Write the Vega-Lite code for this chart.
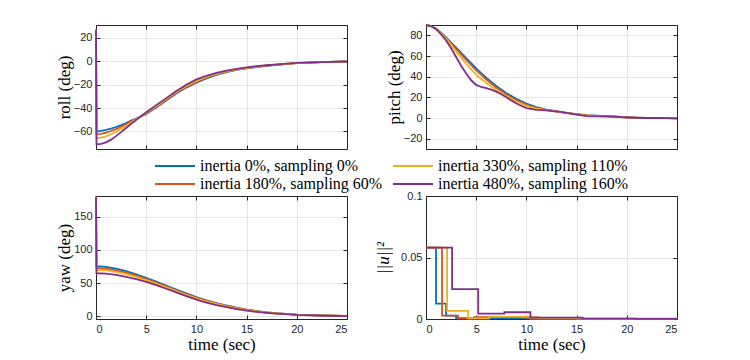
{
  "$schema": "https://vega.github.io/schema/vega-lite/v6.json",
  "background": "white",
  "padding": {"left": 55, "top": 21, "right": 5, "bottom": 5},
  "config": {
    "view": {"stroke": null},
    "axis": {
      "labelFont": "Liberation Sans", "labelFontSize": 11, "labelColor": "#262626",
      "titleFont": "Liberation Serif", "titleFontSize": 17, "titleFontWeight": "normal", "titleColor": "#000000",
      "gridColor": "#e6e6e6", "gridWidth": 1, "domainColor": "#262626", "tickColor": "#262626",
      "tickSize": -4, "labelPadding": 8, "format": "~f"
    },
    "axisX": {"titlePadding": 2},
    "axisY": {"titlePadding": 0},
    "line": {"strokeWidth": 1.8}
  },
  "datasets": {
    "names": [
      {"k": "a", "name": "inertia 0%, sampling 0%"},
      {"k": "b", "name": "inertia 180%, sampling 60%"},
      {"k": "c", "name": "inertia 330%, sampling 110%"},
      {"k": "d", "name": "inertia 480%, sampling 160%"}
    ],
    "roll": [
      {"t": 0, "a": 27, "b": 27, "c": 27, "d": 27},
      {"t": 0.05, "a": -60, "b": -62.3, "c": -65.7, "d": -71},
      {"t": 0.5, "a": -59.5, "b": -62, "c": -65.3, "d": -70.6},
      {"t": 1, "a": -58.7, "b": -61, "c": -64.2, "d": -69.3},
      {"t": 1.5, "a": -57.6, "b": -59.6, "c": -62.4, "d": -67},
      {"t": 2, "a": -56.2, "b": -58, "c": -60.2, "d": -64},
      {"t": 2.5, "a": -54.6, "b": -56, "c": -57.8, "d": -60.6},
      {"t": 3, "a": -52.8, "b": -53.8, "c": -55.2, "d": -57},
      {"t": 3.5, "a": -50.8, "b": -51.4, "c": -52.5, "d": -53.5},
      {"t": 4, "a": -49, "b": -49.3, "c": -49.6, "d": -50.2},
      {"t": 5, "a": -45, "b": -44.6, "c": -44.1, "d": -43.5},
      {"t": 6, "a": -39.5, "b": -39, "c": -38.4, "d": -37.5},
      {"t": 7, "a": -33.5, "b": -33, "c": -32.3, "d": -31.5},
      {"t": 8, "a": -27.5, "b": -27, "c": -26.3, "d": -25.5},
      {"t": 9, "a": -22.5, "b": -21.9, "c": -21.2, "d": -20},
      {"t": 10, "a": -18.3, "b": -17.6, "c": -16.9, "d": -15.5},
      {"t": 11, "a": -14.6, "b": -14, "c": -13.4, "d": -12.4},
      {"t": 12, "a": -11.6, "b": -11.2, "c": -10.7, "d": -10},
      {"t": 13, "a": -9.2, "b": -8.9, "c": -8.6, "d": -8.1},
      {"t": 14, "a": -7.4, "b": -7.2, "c": -6.9, "d": -6.5},
      {"t": 15, "a": -6.1, "b": -5.9, "c": -5.6, "d": -5.2},
      {"t": 16, "a": -4.9, "b": -4.7, "c": -4.5, "d": -4.2},
      {"t": 17, "a": -3.9, "b": -3.8, "c": -3.6, "d": -3.4},
      {"t": 18, "a": -3.1, "b": -3, "c": -2.9, "d": -2.7},
      {"t": 20, "a": -1.6, "b": -1.6, "c": -1.5, "d": -1.4},
      {"t": 22.5, "a": -0.8, "b": -0.8, "c": -0.8, "d": -0.7},
      {"t": 25, "a": -0.2, "b": -0.2, "c": -0.2, "d": -0.2}
    ],
    "pitch": [
      {"t": 0, "a": 90, "b": 90, "c": 90, "d": 90},
      {"t": 0.5, "a": 89, "b": 89, "c": 89, "d": 89},
      {"t": 1, "a": 86.5, "b": 86.4, "c": 86.2, "d": 86},
      {"t": 1.5, "a": 82.5, "b": 82.3, "c": 81.8, "d": 81},
      {"t": 2, "a": 78, "b": 77.5, "c": 76.5, "d": 75},
      {"t": 2.5, "a": 73, "b": 72.3, "c": 70.8, "d": 67.5},
      {"t": 3, "a": 68, "b": 66.8, "c": 64.5, "d": 59},
      {"t": 3.5, "a": 63, "b": 61.5, "c": 58.5, "d": 50.5},
      {"t": 4, "a": 58, "b": 56.3, "c": 52.5, "d": 43},
      {"t": 4.5, "a": 53, "b": 51.2, "c": 47, "d": 36.5},
      {"t": 5, "a": 48, "b": 46.2, "c": 42, "d": 32},
      {"t": 5.5, "a": 43.5, "b": 41.7, "c": 37.8, "d": 30},
      {"t": 6, "a": 39, "b": 37.3, "c": 34, "d": 29},
      {"t": 6.5, "a": 35, "b": 33.3, "c": 30.5, "d": 27.5},
      {"t": 7, "a": 31, "b": 29.5, "c": 27.3, "d": 25.5},
      {"t": 7.5, "a": 27.5, "b": 26, "c": 24.3, "d": 23},
      {"t": 8, "a": 24, "b": 22.7, "c": 21.3, "d": 20},
      {"t": 9, "a": 18.5, "b": 17.3, "c": 16, "d": 14},
      {"t": 10, "a": 14, "b": 13, "c": 11.8, "d": 9.5},
      {"t": 11, "a": 10.5, "b": 9.8, "c": 9, "d": 7.8},
      {"t": 12, "a": 8, "b": 7.8, "c": 7.5, "d": 7.3},
      {"t": 13, "a": 6.3, "b": 6.3, "c": 6.2, "d": 6.5},
      {"t": 14, "a": 5, "b": 5, "c": 4.9, "d": 5},
      {"t": 15, "a": 3.8, "b": 3.7, "c": 3.5, "d": 3.2},
      {"t": 16, "a": 2.8, "b": 2.6, "c": 2.4, "d": 1.8},
      {"t": 17, "a": 2.2, "b": 2, "c": 1.9, "d": 1.5},
      {"t": 18, "a": 1.8, "b": 1.7, "c": 1.6, "d": 1.5},
      {"t": 19, "a": 1.3, "b": 1.2, "c": 1.1, "d": 1},
      {"t": 20, "a": 0.8, "b": 0.7, "c": 0.6, "d": 0.5},
      {"t": 21, "a": 0.3, "b": 0.3, "c": 0.2, "d": 0.2},
      {"t": 22, "a": 0, "b": 0, "c": 0, "d": 0},
      {"t": 23, "a": 0, "b": 0, "c": 0, "d": 0.1},
      {"t": 24, "a": -0.2, "b": -0.2, "c": -0.2, "d": -0.2},
      {"t": 25, "a": -0.4, "b": -0.4, "c": -0.4, "d": -0.4}
    ],
    "yaw": [
      {"t": 0, "a": 180, "b": 180, "c": 180, "d": 180},
      {"t": 0.05, "a": 75.4, "b": 72.4, "c": 69.8, "d": 64.8},
      {"t": 1, "a": 74.5, "b": 71.6, "c": 69.1, "d": 64.3},
      {"t": 2, "a": 71.8, "b": 69.2, "c": 66.9, "d": 62.3},
      {"t": 3, "a": 68, "b": 65.6, "c": 63.5, "d": 59.3},
      {"t": 4, "a": 63.3, "b": 61.2, "c": 59.3, "d": 55.8},
      {"t": 5, "a": 58, "b": 56.2, "c": 54.5, "d": 51.7},
      {"t": 6, "a": 52.3, "b": 50.7, "c": 49.2, "d": 46.8},
      {"t": 7, "a": 46.3, "b": 45, "c": 43.6, "d": 41.5},
      {"t": 8, "a": 40.3, "b": 39.2, "c": 38, "d": 36},
      {"t": 9, "a": 34.5, "b": 33.5, "c": 32.4, "d": 30.5},
      {"t": 10, "a": 29, "b": 28.2, "c": 27.2, "d": 25.3},
      {"t": 11, "a": 24.2, "b": 23.5, "c": 22.6, "d": 20.8},
      {"t": 12, "a": 20, "b": 19.4, "c": 18.6, "d": 17},
      {"t": 13, "a": 16.3, "b": 15.8, "c": 15.1, "d": 13.8},
      {"t": 14, "a": 13, "b": 12.6, "c": 12, "d": 11},
      {"t": 15, "a": 10.2, "b": 9.9, "c": 9.4, "d": 8.6},
      {"t": 16, "a": 8, "b": 7.7, "c": 7.3, "d": 6.7},
      {"t": 17, "a": 6.1, "b": 5.9, "c": 5.6, "d": 5.2},
      {"t": 18, "a": 4.7, "b": 4.5, "c": 4.3, "d": 4},
      {"t": 20, "a": 2.7, "b": 2.6, "c": 2.5, "d": 2.3},
      {"t": 22, "a": 1.5, "b": 1.5, "c": 1.4, "d": 1.3},
      {"t": 25, "a": 0.5, "b": 0.5, "c": 0.5, "d": 0.4}
    ],
    "u": [
      {"t": 0, "s": "a", "v": 0.058}, {"t": 1.0, "s": "a", "v": 0.0125}, {"t": 2.0, "s": "a", "v": 0.0028},
      {"t": 3.0, "s": "a", "v": 0.0005}, {"t": 6.5, "s": "a", "v": 0.0008}, {"t": 10, "s": "a", "v": 0.0003},
      {"t": 15, "s": "a", "v": 0.0001}, {"t": 25, "s": "a", "v": 0.0001},
      {"t": 0, "s": "b", "v": 0.058}, {"t": 1.6, "s": "b", "v": 0.0028}, {"t": 3.2, "s": "b", "v": 0.0006},
      {"t": 4.8, "s": "b", "v": 0.0015}, {"t": 9.6, "s": "b", "v": 0.0012}, {"t": 11.2, "s": "b", "v": 0.0006},
      {"t": 15, "s": "b", "v": 0.0002}, {"t": 25, "s": "b", "v": 0.0001},
      {"t": 0, "s": "c", "v": 0.058}, {"t": 2.1, "s": "c", "v": 0.0066}, {"t": 4.2, "s": "c", "v": 0.0005},
      {"t": 6.3, "s": "c", "v": 0.0019}, {"t": 10.4, "s": "c", "v": 0.0006}, {"t": 15.6, "s": "c", "v": 0.0001},
      {"t": 25, "s": "c", "v": 0.0001},
      {"t": 0, "s": "d", "v": 0.058}, {"t": 2.6, "s": "d", "v": 0.0243}, {"t": 5.2, "s": "d", "v": 0.0044},
      {"t": 7.8, "s": "d", "v": 0.0055}, {"t": 10.4, "s": "d", "v": 0.0011}, {"t": 15.6, "s": "d", "v": 0.0003},
      {"t": 20.8, "s": "d", "v": 0.0001}, {"t": 25, "s": "d", "v": 0.0001}
    ]
  },
  "columns": 2,
  "spacing": {"row": 47, "column": 79},
  "bounds": "flush",
  "resolve": {"scale": {"color": "shared"}, "legend": {"color": "shared"}},
  "concat": [
    {
      "width": 251, "height": 124,
      "data": {"name": "roll"},
      "transform": [
        {"fold": ["a", "b", "c", "d"], "as": ["s", "v"]},
        {"lookup": "s", "from": {"data": {"name": "names"}, "key": "k", "fields": ["name"]}}
      ],
      "resolve": {"axis": {"x": "independent", "y": "independent"}},
      "layer": [
        {
          "mark": {"type": "line", "clip": false},
          "encoding": {
            "x": {"field": "t", "type": "quantitative", "scale": {"domain": [0, 25], "nice": false}, "axis": {"values": [0, 5, 10, 15, 20, 25], "labels": false, "title": null}},
            "y": {"field": "v", "type": "quantitative", "scale": {"domain": [-75, 31], "nice": false, "zero": false}, "axis": {"values": [-60, -40, -20, 0, 20], "title": "roll (deg)"}},
            "color": {
              "field": "name", "type": "nominal",
              "scale": {"domain": ["inertia 0%, sampling 0%", "inertia 180%, sampling 60%", "inertia 330%, sampling 110%", "inertia 480%, sampling 160%"], "range": ["#0072BD", "#D95319", "#EDB120", "#7E2F8E"]},
              "legend": {"orient": "none", "legendX": 71, "legendY": 133, "columns": 2, "title": null, "symbolType": "M-20,0H20", "symbolSize": 4, "symbolStrokeWidth": 2, "labelFont": "Liberation Serif", "labelFontSize": 16, "labelColor": "#000000", "labelLimit": 400, "labelOffset": 17, "columnPadding": 6, "rowPadding": 2, "padding": 0}
            }
          }
        },
        {
          "mark": {"type": "line", "opacity": 0},
          "encoding": {
            "x": {"field": "t", "type": "quantitative", "axis": {"orient": "top", "values": [0, 5, 10, 15, 20, 25], "labels": false, "title": null, "grid": false}},
            "y": {"field": "v", "type": "quantitative", "axis": {"orient": "right", "values": [-60, -40, -20, 0, 20], "labels": false, "title": null, "grid": false}},
            "detail": {"field": "s"}
          }
        }
      ]
    },
    {
      "width": 251, "height": 124,
      "data": {"name": "pitch"},
      "transform": [
        {"fold": ["a", "b", "c", "d"], "as": ["s", "v"]},
        {"lookup": "s", "from": {"data": {"name": "names"}, "key": "k", "fields": ["name"]}}
      ],
      "resolve": {"axis": {"x": "independent", "y": "independent"}},
      "layer": [
        {
          "mark": {"type": "line", "clip": false},
          "encoding": {
            "x": {"field": "t", "type": "quantitative", "scale": {"domain": [0, 25], "nice": false}, "axis": {"values": [0, 5, 10, 15, 20, 25], "labels": false, "title": null}},
            "y": {"field": "v", "type": "quantitative", "scale": {"domain": [-30, 90], "nice": false, "zero": false}, "axis": {"values": [-20, 0, 20, 40, 60, 80], "title": "pitch (deg)"}},
            "color": {"field": "name", "type": "nominal"}
          }
        },
        {
          "mark": {"type": "line", "opacity": 0},
          "encoding": {
            "x": {"field": "t", "type": "quantitative", "axis": {"orient": "top", "values": [0, 5, 10, 15, 20, 25], "labels": false, "title": null, "grid": false}},
            "y": {"field": "v", "type": "quantitative", "axis": {"orient": "right", "values": [-20, 0, 20, 40, 60, 80], "labels": false, "title": null, "grid": false}},
            "detail": {"field": "s"}
          }
        }
      ]
    },
    {
      "width": 251, "height": 123,
      "data": {"name": "yaw"},
      "transform": [
        {"fold": ["a", "b", "c", "d"], "as": ["s", "v"]},
        {"lookup": "s", "from": {"data": {"name": "names"}, "key": "k", "fields": ["name"]}}
      ],
      "resolve": {"axis": {"x": "independent", "y": "independent"}},
      "layer": [
        {
          "mark": {"type": "line", "clip": false},
          "encoding": {
            "x": {"field": "t", "type": "quantitative", "scale": {"domain": [0, 25], "nice": false}, "axis": {"values": [0, 5, 10, 15, 20, 25], "title": "time (sec)"}},
            "y": {"field": "v", "type": "quantitative", "scale": {"domain": [-4, 181], "nice": false, "zero": false}, "axis": {"values": [0, 50, 100, 150], "title": "yaw (deg)"}},
            "color": {"field": "name", "type": "nominal"}
          }
        },
        {
          "mark": {"type": "line", "opacity": 0},
          "encoding": {
            "x": {"field": "t", "type": "quantitative", "axis": {"orient": "top", "values": [0, 5, 10, 15, 20, 25], "labels": false, "title": null, "grid": false}},
            "y": {"field": "v", "type": "quantitative", "axis": {"orient": "right", "values": [0, 50, 100, 150], "labels": false, "title": null, "grid": false}},
            "detail": {"field": "s"}
          }
        }
      ]
    },
    {
      "width": 251, "height": 123,
      "data": {"name": "u"},
      "transform": [
        {"lookup": "s", "from": {"data": {"name": "names"}, "key": "k", "fields": ["name"]}}
      ],
      "resolve": {"axis": {"x": "independent", "y": "independent"}},
      "layer": [
        {
          "mark": {"type": "line", "clip": false, "interpolate": "step-after"},
          "encoding": {
            "x": {"field": "t", "type": "quantitative", "scale": {"domain": [0, 25], "nice": false}, "axis": {"values": [0, 5, 10, 15, 20, 25], "title": "time (sec)"}},
            "y": {"field": "v", "type": "quantitative", "scale": {"domain": [0, 0.1], "nice": false, "zero": false}, "axis": {"values": [0, 0.05, 0.1], "title": "||u||²", "titleFontStyle": "italic", "titlePadding": 8}},
            "color": {"field": "name", "type": "nominal"}
          }
        },
        {
          "mark": {"type": "line", "opacity": 0},
          "encoding": {
            "x": {"field": "t", "type": "quantitative", "axis": {"orient": "top", "values": [0, 5, 10, 15, 20, 25], "labels": false, "title": null, "grid": false}},
            "y": {"field": "v", "type": "quantitative", "axis": {"orient": "right", "values": [0, 0.05, 0.1], "labels": false, "title": null, "grid": false}},
            "detail": {"field": "s"}
          }
        }
      ]
    }
  ]
}
